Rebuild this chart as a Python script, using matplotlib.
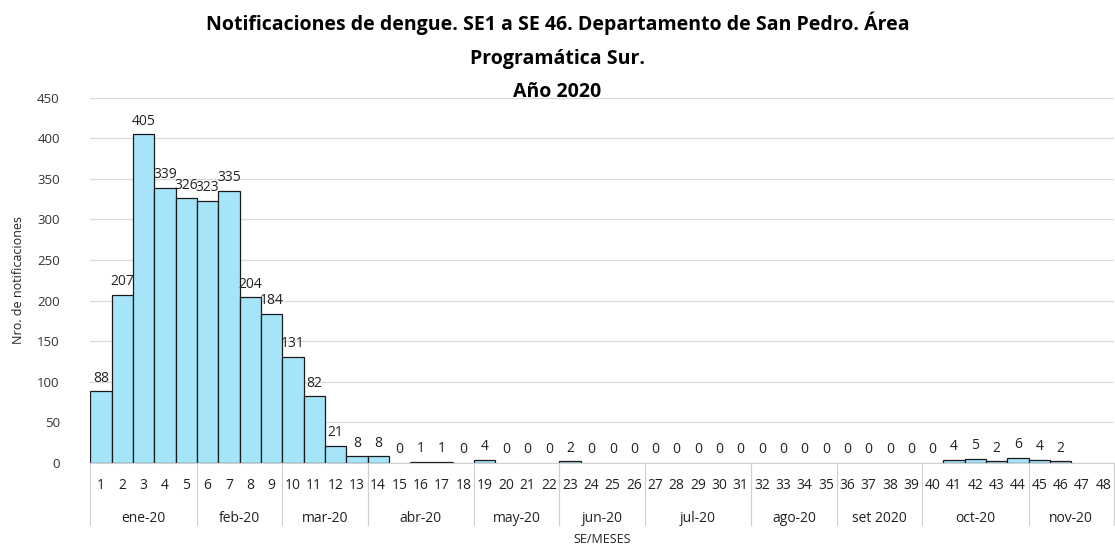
import matplotlib
matplotlib.use("Agg")
import matplotlib.pyplot as plt
import matplotlib.transforms as mtransforms

# semanas epidemiológicas y notificaciones (47 y 48 sin datos)
semanas = list(range(1, 49))
casos = [88, 207, 405, 339, 326, 323, 335, 204, 184, 131, 82, 21, 8, 8, 0, 1,
         1, 0, 4, 0, 0, 0, 2, 0, 0, 0, 0, 0, 0, 0, 0, 0, 0, 0, 0, 0, 0, 0, 0, 0,
         4, 5, 2, 6, 4, 2, None, None]
meses = ["ene-20", "feb-20", "mar-20", "abr-20", "may-20", "jun-20",
         "jul-20", "ago-20", "set 2020", "oct-20", "nov-20"]
semanas_por_mes = [5, 4, 4, 5, 4, 4, 5, 4, 4, 5, 4]
titulo = ["Notificaciones de dengue. SE1 a SE 46. Departamento de San Pedro. Área",
          "Programática Sur.",
          "Año 2020"]

plt.rcParams['font.family'] = ['Open Sans', 'DejaVu Sans']

fig = plt.figure(figsize=(11.15, 5.49), dpi=100)
ax = fig.add_axes([0.081, 0.157, 0.918, 0.665])

for s, c in zip(semanas, casos):
    if c is None:
        continue
    lw = 0.9 if c > 0 else 0
    ax.bar(s, c, width=1.0, color="#a6e4fa", edgecolor="#1a1a1a", linewidth=lw)
    ax.annotate(str(c), (s, c), xytext=(0, 4), textcoords="offset points",
                ha="center", va="bottom", fontsize=10, color="#222222")

ax.set_xlim(0.5, 48.5)
ax.set_ylim(0, 450)
ax.set_yticks(range(0, 451, 50))
ax.set_xticks(semanas)
ax.set_xticklabels([str(s) for s in semanas], fontsize=10, color="#222222")
ax.tick_params(axis="x", length=0, pad=11)
ax.tick_params(axis="y", length=0, labelsize=9.5, labelcolor="#333333", pad=22)
ax.grid(axis="y", color="#d9d9d9", linewidth=0.9)
ax.set_axisbelow(True)
for sp in ["top", "right", "left"]:
    ax.spines[sp].set_visible(False)
ax.spines["bottom"].set_color("#d0d0d0")

trans = mtransforms.blended_transform_factory(ax.transData, ax.transAxes)
inicio = 0.5
ax.plot([inicio, inicio], [0, -0.17], transform=trans, color="#d0d0d0",
        linewidth=0.9, clip_on=False)
for mes, n in zip(meses, semanas_por_mes):
    fin = inicio + n
    ax.text((inicio + fin) / 2, -0.152, mes, transform=trans, ha="center",
            va="center", fontsize=10, color="#222222")
    ax.plot([fin, fin], [0, -0.17], transform=trans, color="#d0d0d0",
            linewidth=0.9, clip_on=False)
    inicio = fin

ax.set_xlabel("SE/MESES", fontsize=9, color="#222222", labelpad=29)
ax.set_ylabel("Nro. de notificaciones", fontsize=9, color="#222222", labelpad=9)

for linea, y in zip(titulo, [0.958, 0.893, 0.832]):
    fig.text(0.5, y, linea, ha="center", va="center", fontsize=14,
             fontweight="bold")

fig.savefig("out.png", dpi=100)
